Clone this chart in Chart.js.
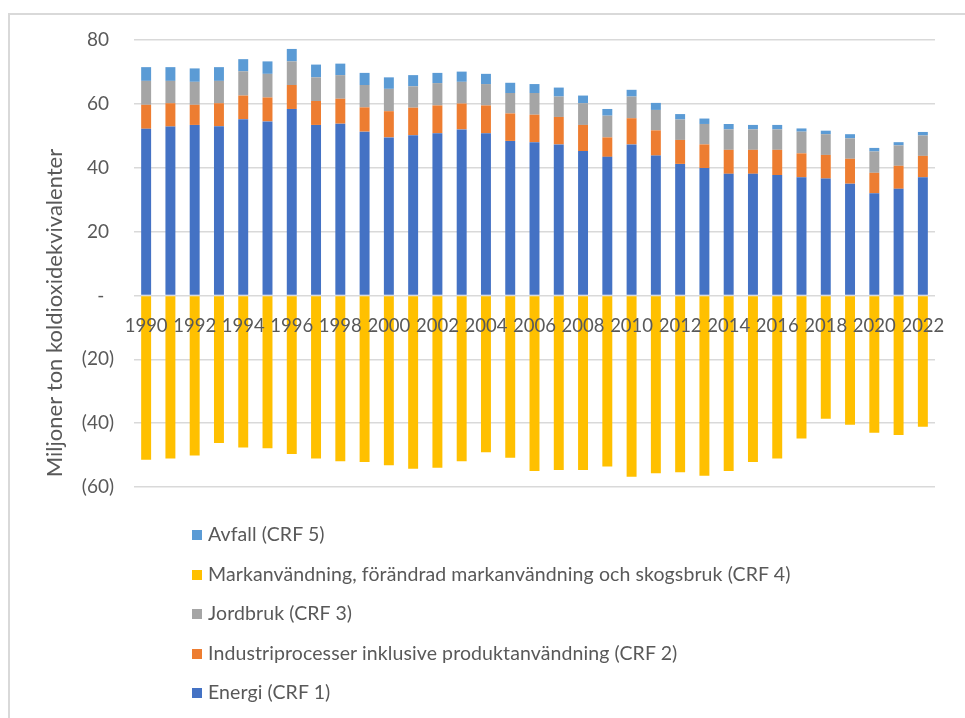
<!DOCTYPE html>
<html>
<head>
<meta charset="utf-8">
<script src="https://cdn.jsdelivr.net/npm/chart.js@4/dist/chart.umd.min.js"></script>
<style>
  body { margin: 0; background: #fff; overflow: hidden; }
  #frame { position: absolute; left: 8px; top: 13px; width: 970px; height: 720px; border: 2px solid #d9d9d9; }
  #wrap { position: absolute; left: 0; top: 0; width: 965px; height: 718px; }
  #legend { position: absolute; left: 192px; top: 514px; font-family: Lato, sans-serif; font-size: 19.5px; letter-spacing: 0.1px; color: #595959; }
  #legend div { height: 39.5px; line-height: 39.5px; white-space: nowrap; }
  #legend span { display: inline-block; width: 10px; height: 10px; margin-right: 6px; vertical-align: middle; position: relative; top: -1px; }
</style>
</head>
<body>
<div id="frame"></div>
<div id="wrap"><canvas id="chart" width="965" height="718"></canvas></div>
<div id="legend"></div>
<script>
const years = ['1990','1991','1992','1993','1994','1995','1996','1997','1998','1999','2000','2001','2002','2003','2004','2005','2006','2007','2008','2009','2010','2011','2012','2013','2014','2015','2016','2017','2018','2019','2020','2021','2022'];

const energi = [52.2, 52.9, 53.4, 53.0, 55.2, 54.5, 58.4, 53.4, 53.8, 51.3, 49.5, 50.2, 50.8, 52.0, 50.8, 48.4, 48.0, 47.3, 45.2, 43.4, 47.3, 43.8, 41.2, 39.9, 38.1, 38.1, 37.7, 37.0, 36.6, 35.0, 32.0, 33.4, 37.0];
const industri = [7.5, 7.3, 6.3, 7.2, 7.4, 7.5, 7.5, 7.5, 7.8, 7.6, 8.2, 8.6, 8.7, 8.1, 8.7, 8.6, 8.6, 8.6, 8.2, 6.1, 8.2, 7.9, 7.5, 7.4, 7.5, 7.5, 7.9, 7.5, 7.4, 7.8, 6.4, 7.2, 6.7];
const jordbruk = [7.5, 7.0, 7.2, 7.0, 7.6, 7.4, 7.4, 7.4, 7.4, 7.0, 7.0, 6.7, 7.0, 6.8, 6.7, 6.4, 6.8, 6.4, 6.8, 6.8, 6.8, 6.4, 6.4, 6.4, 6.4, 6.4, 6.4, 6.8, 6.5, 6.4, 6.7, 6.4, 6.4];
const markanvandning = [-51.5, -51.1, -50.1, -46.2, -47.6, -47.9, -49.7, -51.1, -51.9, -52.2, -53.2, -54.3, -54.0, -51.9, -49.1, -50.8, -55.0, -54.7, -54.7, -53.6, -56.8, -55.7, -55.4, -56.5, -55.0, -52.2, -51.1, -44.8, -38.6, -40.5, -43.0, -43.7, -41.1];
const avfall = [4.3, 4.3, 4.2, 4.3, 3.8, 3.9, 3.9, 4.0, 3.6, 3.8, 3.6, 3.5, 3.2, 3.2, 3.2, 3.2, 2.8, 2.8, 2.4, 2.1, 2.1, 2.2, 1.7, 1.7, 1.7, 1.4, 1.4, 1.0, 1.1, 1.3, 1.1, 1.0, 1.1];

const yTitle = 'Miljoner ton koldioxidekvivalenter';
const grey = '#595959';

// rotated y axis title, placed like the Excel original (below the plot centre)
const yTitlePlugin = {
  id: 'yTitle',
  afterDraw(chart) {
    const ctx = chart.ctx;
    ctx.save();
    ctx.translate(55, 313);
    ctx.rotate(-Math.PI / 2);
    ctx.font = '22px Lato, sans-serif';
    ctx.fillStyle = grey;
    ctx.textAlign = 'center';
    ctx.textBaseline = 'middle';
    ctx.fillText(yTitle, 0, 0);
    ctx.restore();
  }
};

function bar(label, data, color) {
  return { label: label, data: data, backgroundColor: color, barPercentage: 0.41, categoryPercentage: 1 };
}

const chart = new Chart(document.getElementById('chart'), {
  type: 'bar',
  data: {
    labels: years,
    datasets: [
      bar('Energi (CRF 1)', energi, '#4472C4'),
      bar('Industriprocesser inklusive produktanvändning (CRF 2)', industri, '#ED7D31'),
      bar('Jordbruk (CRF 3)', jordbruk, '#A5A5A5'),
      bar('Markanvändning, förändrad markanvändning och skogsbruk (CRF 4)', markanvandning, '#FFC000'),
      bar('Avfall (CRF 5)', avfall, '#5B9BD5')
    ]
  },
  options: {
    responsive: false,
    animation: false,
    layout: { padding: { left: 0, top: 40, right: 30, bottom: 231 } },
    plugins: { legend: { display: false }, tooltip: { enabled: false } },
    scales: {
      x: {
        stacked: true,
        position: { y: 0 },
        grid: { display: false },
        border: { display: false },
        ticks: {
          z: 1,
          autoSkip: false,
          maxRotation: 0,
          padding: 12,
          color: grey,
          font: { family: 'Lato, sans-serif', size: 18.5 },
          callback: (v, i) => i % 2 === 0 ? years[i] : ''
        }
      },
      y: {
        stacked: true,
        min: -60,
        max: 80,
        afterFit: s => { s.width = 134; },
        grid: { color: '#d9d9d9', lineWidth: 1.5, drawTicks: false },
        border: { display: false },
        ticks: {
          stepSize: 20,
          padding: 20,
          color: grey,
          font: { family: 'Lato, sans-serif', size: 19 },
          callback: v => v > 0 ? v + ' ' : (v === 0 ? '-  ' : '(' + (-v) + ')')
        }
      }
    }
  },
  plugins: [yTitlePlugin]
});

// legend list, top to bottom in reverse stacking order
const legendBox = document.getElementById('legend');
chart.data.datasets.slice().reverse().forEach(ds => {
  const row = document.createElement('div');
  const sw = document.createElement('span');
  sw.style.background = ds.backgroundColor;
  row.appendChild(sw);
  row.appendChild(document.createTextNode(ds.label));
  legendBox.appendChild(row);
});
</script>
</body>
</html>
